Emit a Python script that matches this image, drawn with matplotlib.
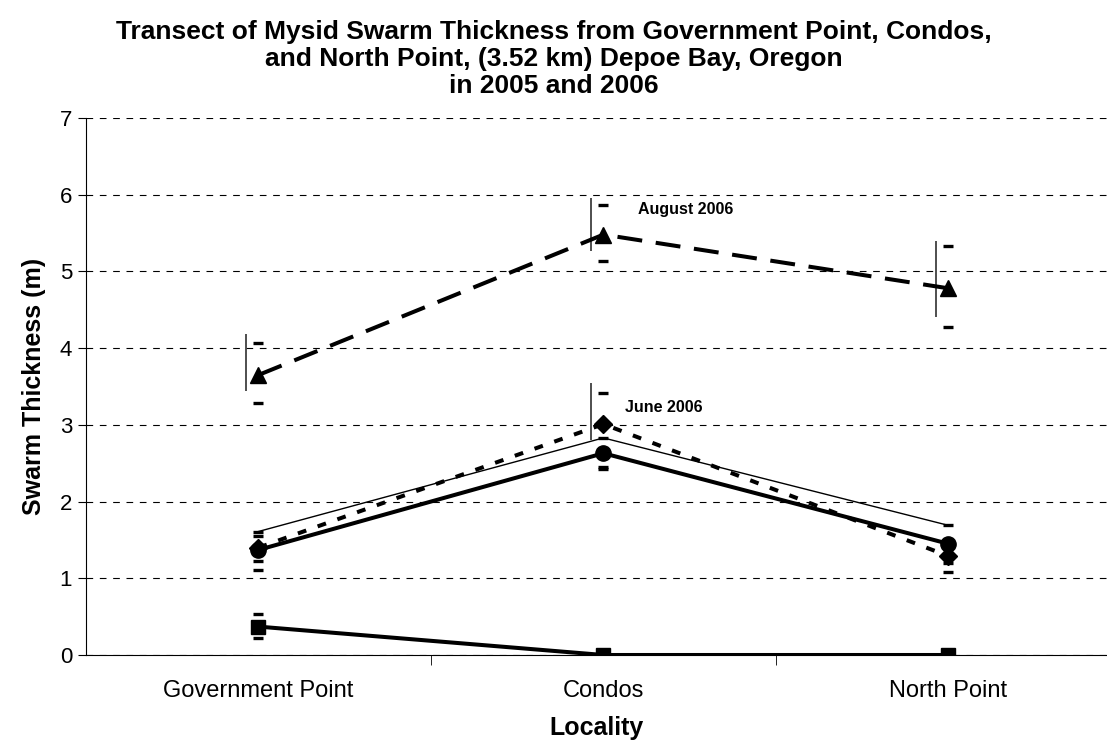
import matplotlib
matplotlib.use("Agg")
import matplotlib.pyplot as plt
import numpy as np

plt.rcParams['font.family'] = ['Liberation Sans', 'DejaVu Sans']

categories = ["Government Point", "Condos", "North Point"]
aug2006 = [3.65, 5.48, 4.78]
aug2006_caps_hi = [4.07, 5.87, 5.33]
aug2006_caps_lo = [3.28, 5.13, 4.28]
aug2006_bar_hi = [4.19, 5.96, 5.40]
aug2006_bar_lo = [3.44, 5.26, 4.40]
jun2006 = [1.40, 3.01, 1.29]
jun2006_caps_hi = [1.55, 3.42, 1.40]
jun2006_caps_lo = [1.11, 2.45, 1.08]
jun2006_bar_hi = [1.50, 3.55, 1.35]
jun2006_bar_lo = [1.30, 2.80, 1.25]
circles = [1.37, 2.63, 1.45]
circles_caps_hi = [1.60, 2.83, 1.69]
circles_caps_lo = [1.22, 2.42, 1.20]
thin = [1.61, 2.83, 1.69]
squares = [0.37, 0.0, 0.0]
squares_caps_hi = [0.53, 0.0, 0.0]
squares_caps_lo = [0.22, 0.0, 0.0]

fig = plt.figure(figsize=(11.07, 7.47), dpi=100)
ax = fig.add_axes([86/1107, (747-655)/747, (1107-86)/1107, (655-118)/747])
x = np.arange(len(categories))

ax.plot(x, thin, color='black', lw=1.0, zorder=3)
ax.plot(x, circles, color='black', lw=2.9, marker='o', ms=11, zorder=4)
ax.plot(x, squares, color='black', lw=2.9, marker='s', ms=10.5, zorder=4)
ax.plot(x, jun2006, color='black', lw=2.9, ls=(0, (2.2, 3.0)), marker='D', ms=9.5, zorder=4)
ax.plot(x, aug2006, color='black', lw=2.9, ls=(0, (6.2, 3.4)), marker='^', ms=12, zorder=4)

for hi, lo in [(aug2006_caps_hi, aug2006_caps_lo), (jun2006_caps_hi, jun2006_caps_lo),
               (circles_caps_hi, circles_caps_lo), (squares_caps_hi, squares_caps_lo)]:
    ax.plot(x, hi, ls='none', marker='_', ms=7, mew=2.4, color='black', zorder=5)
    ax.plot(x, lo, ls='none', marker='_', ms=7, mew=2.4, color='black', zorder=5)

ax.vlines(x - 0.035, aug2006_bar_lo, aug2006_bar_hi, color='#404040', lw=1.3, zorder=3)
ax.vlines([1 - 0.035], [jun2006_bar_lo[1]], [jun2006_bar_hi[1]], color='#404040', lw=1.3, zorder=3)

ax.text(1.101, 5.81, "August 2006", fontsize=11.5, fontweight='bold', va='center', ha='left')
ax.text(1.064, 3.23, "June 2006", fontsize=11.5, fontweight='bold', va='center', ha='left')

ax.set_xlim(-0.5, 2.46)
ax.set_ylim(0, 7)
ax.set_yticks(range(0, 8))
ax.set_xticks(x)
ax.set_xticklabels(categories, fontsize=17)
ax.tick_params(axis='x', length=0, pad=18)
ax.set_xticks([0.5, 1.5], minor=True)
ax.tick_params(axis='x', which='minor', length=7, direction='out')
ax.tick_params(axis='y', labelsize=16, length=6, direction='out', pad=4)
ax.grid(axis='y', color='black', ls=(0, (6, 6)), lw=0.8)
for s in ['top', 'right']:
    ax.spines[s].set_visible(False)
ax.set_axisbelow(True)
ax.set_ylabel("Swarm Thickness (m)", fontsize=18, fontweight='bold', labelpad=10)
ax.set_xlabel("Locality", fontsize=18, fontweight='bold', labelpad=10)
fig.text(0.5, 0.973, "Transect of Mysid Swarm Thickness from Government Point, Condos,\nand North Point, (3.52 km) Depoe Bay, Oregon\nin 2005 and 2006",
         ha='center', va='top', fontsize=19, fontweight='bold', linespacing=1.15)

fig.savefig("out.png", dpi=100)
